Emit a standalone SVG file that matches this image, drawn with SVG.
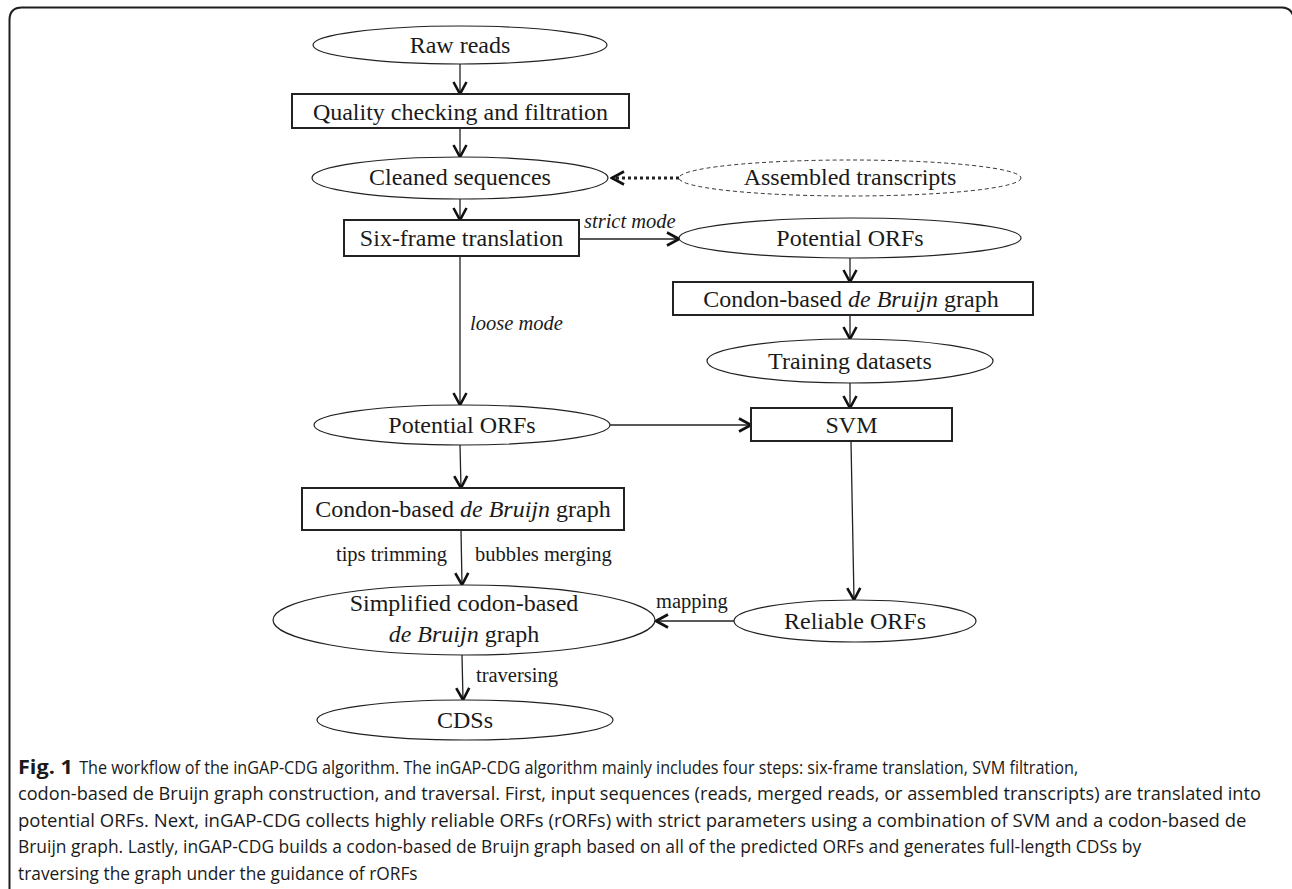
<svg xmlns="http://www.w3.org/2000/svg" width="1292" height="889" viewBox="0 0 1292 889">
<style>
.bg{fill:#ffffff}
.frame{fill:none;stroke:#1e1e1e;stroke-width:2}
.ell{fill:#ffffff;stroke:#222;stroke-width:1.2}
.dash{fill:#ffffff;stroke:#333;stroke-width:1;stroke-dasharray:4 3}
.box{fill:#ffffff;stroke:#222;stroke-width:2}
.lbl{font-family:"Liberation Serif","Times New Roman",serif;font-size:24px;fill:#1a1a1a;text-anchor:middle}
.sm{font-family:"Liberation Serif","Times New Roman",serif;font-size:20.5px;fill:#1a1a1a}
.it{font-style:italic}
.edge{fill:none;stroke:#222;stroke-width:1.3}
.dot{fill:none;stroke:#222;stroke-width:3;stroke-dasharray:3 3}
.cap{font-family:"Open Sans","Noto Sans",sans-serif;font-size:19px;fill:#1a1a1a}
</style>
<defs>
<marker id="ah" viewBox="0 0 16 16" refX="14" refY="8" markerWidth="16" markerHeight="16" orient="auto" markerUnits="userSpaceOnUse">
<path d="M2,1.5 L14,8 L2,14.5" fill="none" stroke="#111" stroke-width="2.6"/>
</marker>
</defs>
<rect class="bg" x="0" y="0" width="1292" height="889"/>
<path class="frame" d="M9.5 889 V20 Q9.5 7.5 22 7.5 H1282 Q1290 7.5 1293 15"/>

<g id="connectors">
<line class="edge" x1="460" y1="64" x2="460" y2="94" marker-end="url(#ah)"/>
<line class="edge" x1="460" y1="128" x2="460" y2="157" marker-end="url(#ah)"/>
<line class="dot" x1="679" y1="178" x2="612" y2="178" marker-end="url(#ah)"/>
<line class="edge" x1="460" y1="199" x2="460" y2="220" marker-end="url(#ah)"/>
<line class="edge" x1="579" y1="239" x2="679" y2="239" marker-end="url(#ah)"/>
<line class="edge" x1="460" y1="256" x2="460" y2="405" marker-end="url(#ah)"/>
<line class="edge" x1="850" y1="258" x2="850" y2="282" marker-end="url(#ah)"/>
<line class="edge" x1="850" y1="315" x2="850" y2="339" marker-end="url(#ah)"/>
<line class="edge" x1="850" y1="383" x2="850" y2="408" marker-end="url(#ah)"/>
<line class="edge" x1="610" y1="425" x2="751" y2="425" marker-end="url(#ah)"/>
<line class="edge" x1="460" y1="445" x2="461" y2="488" marker-end="url(#ah)"/>
<line class="edge" x1="461" y1="530" x2="462" y2="585" marker-end="url(#ah)"/>
<line class="edge" x1="851" y1="441" x2="854" y2="600" marker-end="url(#ah)"/>
<line class="edge" x1="734" y1="621" x2="656" y2="621" marker-end="url(#ah)"/>
<line class="edge" x1="462" y1="655" x2="463" y2="700" marker-end="url(#ah)"/>
<text class="sm it" x="584" y="228">strict mode</text>
<text class="sm it" x="470" y="330">loose mode</text>
<text class="sm" x="447" y="561" text-anchor="end">tips trimming</text>
<text class="sm" x="475" y="561">bubbles merging</text>
<text class="sm" x="656" y="608">mapping</text>
<text class="sm" x="476" y="682">traversing</text>
</g>

<g id="raw-reads">
<ellipse class="ell" cx="460" cy="45" rx="147" ry="19"/>
<text class="lbl" x="460" y="53">Raw reads</text>
</g>
<g id="quality">
<rect class="box" x="292" y="94" width="337" height="34"/>
<text class="lbl" x="460.5" y="120">Quality checking and filtration</text>
</g>
<g id="cleaned">
<ellipse class="ell" cx="460" cy="178" rx="148" ry="21"/>
<text class="lbl" x="460" y="185">Cleaned sequences</text>
</g>
<g id="assembled">
<ellipse class="dash" cx="850" cy="178" rx="171" ry="18"/>
<text class="lbl" x="850" y="185">Assembled transcripts</text>
</g>
<g id="six-frame">
<rect class="box" x="344" y="220" width="235" height="36"/>
<text class="lbl" x="461.5" y="246">Six-frame translation</text>
</g>
<g id="potential-right">
<ellipse class="ell" cx="850" cy="238" rx="171" ry="20"/>
<text class="lbl" x="850" y="246">Potential ORFs</text>
</g>
<g id="condon-right">
<rect class="box" x="673" y="282" width="360" height="33"/>
<text class="lbl" x="851" y="306.5">Condon-based <tspan class="it">de Bruijn</tspan> graph</text>
</g>
<g id="training">
<ellipse class="ell" cx="850" cy="361" rx="143" ry="22"/>
<text class="lbl" x="850" y="369">Training datasets</text>
</g>
<g id="svm">
<rect class="box" x="751" y="408" width="201" height="33"/>
<text class="lbl" x="851.5" y="433">SVM</text>
</g>
<g id="potential-left">
<ellipse class="ell" cx="462" cy="425" rx="148" ry="20"/>
<text class="lbl" x="462" y="433">Potential ORFs</text>
</g>
<g id="condon-left">
<rect class="box" x="302" y="488" width="322" height="42"/>
<text class="lbl" x="463" y="517">Condon-based <tspan class="it">de Bruijn</tspan> graph</text>
</g>
<g id="simplified">
<ellipse class="ell" cx="464" cy="620" rx="191" ry="35"/>
<text class="lbl" x="464" y="611">Simplified codon-based</text>
<text class="lbl" x="464" y="642"><tspan class="it">de Bruijn</tspan> graph</text>
</g>
<g id="reliable">
<ellipse class="ell" cx="855" cy="621" rx="121" ry="21"/>
<text class="lbl" x="855" y="629">Reliable ORFs</text>
</g>
<g id="cdss">
<ellipse class="ell" cx="465" cy="720" rx="148" ry="20"/>
<text class="lbl" x="465" y="728">CDSs</text>
</g>

<g id="caption" transform="scale(0.9 1)">
<text class="cap" x="20" y="774" font-weight="bold" textLength="61" lengthAdjust="spacingAndGlyphs">Fig. 1</text>
<text class="cap" x="88" y="774" textLength="1110" lengthAdjust="spacingAndGlyphs">The workflow of the inGAP-CDG algorithm. The inGAP-CDG algorithm mainly includes four steps: six-frame translation, SVM filtration,</text>
<text class="cap" x="20" y="800" textLength="1381" lengthAdjust="spacingAndGlyphs">codon-based de Bruijn graph construction, and traversal. First, input sequences (reads, merged reads, or assembled transcripts) are translated into</text>
<text class="cap" x="20" y="827" textLength="1365" lengthAdjust="spacingAndGlyphs">potential ORFs. Next, inGAP-CDG collects highly reliable ORFs (rORFs) with strict parameters using a combination of SVM and a codon-based de</text>
<text class="cap" x="20" y="853" textLength="1248" lengthAdjust="spacingAndGlyphs">Bruijn graph. Lastly, inGAP-CDG builds a codon-based de Bruijn graph based on all of the predicted ORFs and generates full-length CDSs by</text>
<text class="cap" x="20" y="880" textLength="444" lengthAdjust="spacingAndGlyphs">traversing the graph under the guidance of rORFs</text>
</g>
</svg>
